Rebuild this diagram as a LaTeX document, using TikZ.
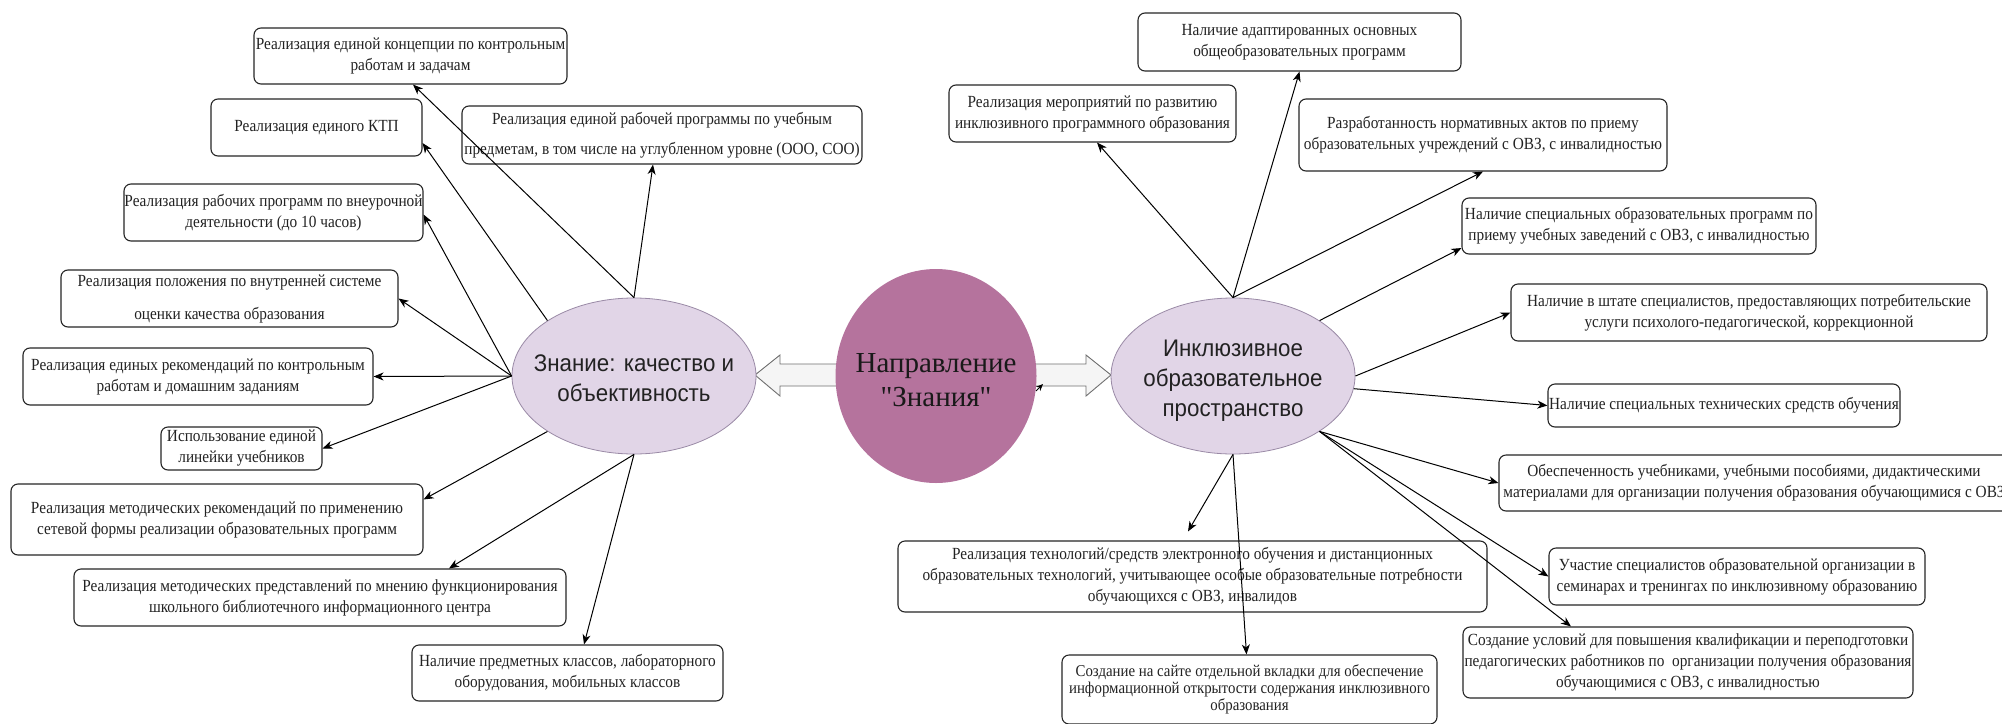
\documentclass[tikz,border=0pt]{standalone}
\usepackage{fontspec}
\setmainfont{Liberation Serif}
\newfontfamily\boxfont{Liberation Serif}[FakeStretch=0.9]
\newfontfamily\bigserif{Liberation Serif}
\newfontfamily\ellfont{Liberation Sans}[FakeStretch=0.93]
\usetikzlibrary{shapes.geometric,arrows.meta,calc}
\definecolor{lav}{HTML}{E1D5E7}
\definecolor{lavline}{HTML}{9A8AA6}
\definecolor{mauve}{HTML}{B5739D}
\definecolor{blockfill}{HTML}{F5F5F5}
\definecolor{blockline}{HTML}{707070}
\definecolor{txt}{HTML}{222222}
\tikzset{
 box/.style={draw=black!85, line width=1.1pt, rounded corners=7pt, fill=white, align=center, inner sep=0pt, text=txt, font=\boxfont\fontsize{17}{21}\selectfont},
 ell/.style={ellipse, draw=lavline, line width=0.8pt, fill=lav, inner sep=0pt},
 elltext/.style={align=center, inner sep=0pt, text=txt, font=\ellfont\fontsize{24}{30}\selectfont},
 centertext/.style={align=center, inner sep=0pt, text=black!90, font=\bigserif\fontsize{29}{34}\selectfont},
 conn/.style={-{Stealth[length=10pt,width=8pt,inset=3pt]}, line width=1pt, black},
 blockarrow/.style={fill=blockfill, draw=blockline, line width=0.9pt, line join=miter}
}
\begin{document}
\begin{tikzpicture}[x=1pt,y=-1pt]
\useasboundingbox (0,0) rectangle (2002,723);
\fill[white] (0,0) rectangle (2002,723);

% block arrows
\draw[blockarrow] (755,375) -- (780,355) -- (780,364) -- (870,364) -- (870,386) -- (780,386) -- (780,396) -- cycle;
\draw[blockarrow] (1000,364) -- (1086,364) -- (1086,355) -- (1111,375) -- (1086,396) -- (1086,386) -- (1000,386) -- cycle;

% ellipses
\node[ellipse, fill=mauve, inner sep=0pt, minimum width=201pt, minimum height=214pt] (C) at (936,376) {};
\node[centertext] (Ct) at (936,380) {Направление\\"Знания"};
\node[ell, minimum width=244pt, minimum height=156pt] (L) at (634,376) {};
\node[elltext] (Lt) at (634,378) {Знание: качество и\\объективность};
\node[ell, minimum width=244pt, minimum height=156pt] (R) at (1233,376) {};
\node[elltext] (Rt) at (1233,381) {Инклюзивное\\образовательное\\пространство};

% left boxes
\node[box, minimum width=313pt, minimum height=56pt] (B1) at (410.5,56) {Реализация единой концепции по контрольным\\работам и задачам};
\node[box, minimum width=211pt, minimum height=57pt] (B2) at (316.5,127.5) {Реализация единого КТП};
\node[box, minimum width=400pt, minimum height=58pt] (B3) at (662,135) {Реализация единой рабочей программы по учебным\\[9pt]предметам, в том числе на углубленном уровне (ООО, СОО)};
\node[box, minimum width=299pt, minimum height=57pt] (B4) at (273.5,212.5) {Реализация рабочих программ по внеурочной\\деятельности (до 10 часов)};
\node[box, minimum width=337pt, minimum height=57pt] (B5) at (229.5,298.5) {Реализация положения по внутренней системе\\[12pt]оценки качества образования};
\node[box, minimum width=350pt, minimum height=57pt] (B6) at (198,376.5) {Реализация единых рекомендаций по контрольным\\работам и домашним заданиям};
\node[box, minimum width=161pt, minimum height=43pt] (B7) at (241.5,448.5) {Использование единой\\линейки учебников};
\node[box, minimum width=412pt, minimum height=71pt] (B8) at (217,519.5) {Реализация методических рекомендаций по применению\\сетевой формы реализации образовательных программ};
\node[box, minimum width=492pt, minimum height=57pt] (B9) at (320,597.5) {Реализация методических представлений по мнению функционирования\\школьного библиотечного информационного центра};
\node[box, minimum width=311pt, minimum height=56pt] (B10) at (567.5,673) {Наличие предметных классов, лабораторного\\оборудования, мобильных классов};

% right boxes
\node[box, minimum width=323pt, minimum height=58pt] (B11) at (1299.5,42) {Наличие адаптированных основных\\общеобразовательных программ};
\node[box, minimum width=287pt, minimum height=57pt] (B12) at (1092.5,113.5) {Реализация мероприятий по развитию\\инклюзивного программного образования};
\node[box, minimum width=368pt, minimum height=72pt] (B13) at (1483,135) {Разработанность нормативных актов по приему\\образовательных учреждений с ОВЗ, с инвалидностью};
\node[box, minimum width=354pt, minimum height=56pt] (B14) at (1639,226) {Наличие специальных образовательных программ по\\приему учебных заведений с ОВЗ, с инвалидностью};
\node[box, minimum width=476pt, minimum height=57pt] (B15) at (1749,312.5) {Наличие в штате специалистов, предоставляющих потребительские\\услуги психолого-педагогической, коррекционной};
\node[box, minimum width=352pt, minimum height=43pt] (B16) at (1724,405.5) {Наличие специальных технических средств обучения};
\node[box, minimum width=510pt, minimum height=56pt] (B17) at (1754,483) {Обеспеченность учебниками, учебными пособиями, дидактическими\\материалами для организации получения образования обучающимися с ОВЗ};
\node[box, minimum width=589pt, minimum height=71pt] (B18) at (1192.5,576.5) {Реализация технологий/средств электронного обучения и дистанционных\\образовательных технологий, учитывающее особые образовательные потребности\\обучающихся с ОВЗ, инвалидов};
\node[box, minimum width=375pt, minimum height=69pt, font=\boxfont\fontsize{16.5}{17}\selectfont] (B19) at (1249.5,689.5) {Создание на сайте отдельной вкладки для обеспечение\\информационной открытости содержания инклюзивного\\образования};
\node[box, minimum width=376pt, minimum height=57pt] (B20) at (1737,576.5) {Участие специалистов образовательной организации в\\семинарах и тренингах по инклюзивному образованию};
\node[box, minimum width=450pt, minimum height=71pt] (B21) at (1688,662.5) {Создание условий для повышения квалификации и переподготовки\\педагогических работников по\ \ организации получения образования\\обучающимися с ОВЗ, с инвалидностью};

% connectors left
\draw[conn] (L.north) -- ($(B1.south)+(2.5,0)$);
\draw[conn] (L.north west) -- ($(B2.east)+(0,15.5)$);
\draw[conn] (L.north) -- ($(B3.south)+(-9,0)$);
\draw[conn] (L.west) -- ($(B4.east)+(0,2)$);
\draw[conn] (L.west) -- (B5.east);
\draw[conn] (L.west) -- (B6.east);
\draw[conn] (L.west) -- (B7.east);
\draw[conn] (L.south west) -- ($(B8.east)+(0,-20)$);
\draw[conn] (L.south) -- ($(B9.north)+(129,0)$);
\draw[conn] (L.south) -- ($(B10.north)+(16.5,0)$);

% connectors right
\draw[conn] (R.north) -- ($(B12.south)+(4.5,0)$);
\draw[conn] (R.north) -- (B11.south);
\draw[conn] (R.north) -- (B13.south);
\draw[conn] (R.north east) -- ($(B14.west)+(0,22)$);
\draw[conn] (R.east) -- (B15.west);
\draw[conn] (R.-6) -- (B16.west);
\draw[conn] (R.south east) -- (B17.west);
\draw[conn] (R.south) -- ($(B18.north)+(-4.5,-9)$);
\draw[conn] (R.south) -- ($(B19.north)+(-3,0)$);
\draw[conn] (R.south east) -- (B20.west);
\draw[conn] (R.south east) -- ($(B21.north)+(-117,0)$);

% small stray arrowhead
\coordinate (s1) at (1036,391);
\coordinate (s2) at (1043,384);
\draw[-{Stealth[length=7pt,width=6pt]}, line width=0.8pt] (s1) -- (s2);
\end{tikzpicture}
\end{document}
